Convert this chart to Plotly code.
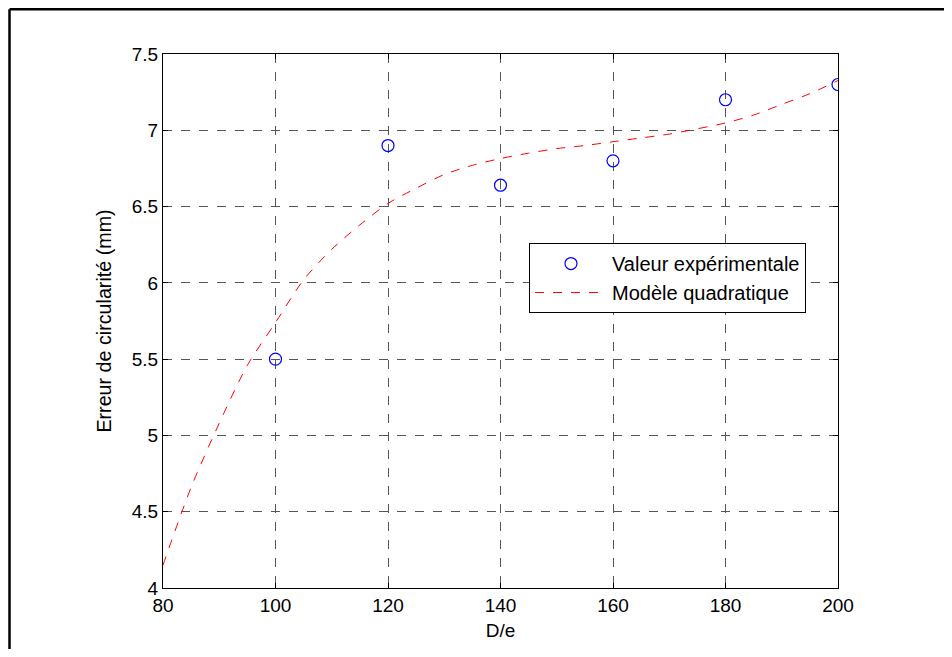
import plotly.graph_objects as go

# Experimental values
exp_x = [100, 120, 140, 160, 180, 200]
exp_y = [5.50, 6.90, 6.64, 6.80, 7.20, 7.30]

# Model curve
model_x = [80, 85, 90, 95, 100, 105, 110, 115, 120, 125, 130, 135, 140, 145, 150,
           155, 160, 165, 170, 175, 180, 185, 190, 195, 200]
model_y = [4.15, 4.66, 5.08, 5.46, 5.74, 6.02, 6.22, 6.38, 6.52, 6.62, 6.71, 6.77, 6.815, 6.85, 6.88,
           6.90, 6.925, 6.95, 6.975, 7.01, 7.048, 7.10, 7.17, 7.24, 7.326]

x_ticks = [80, 100, 120, 140, 160, 180, 200]
y_ticks = [4, 4.5, 5, 5.5, 6, 6.5, 7, 7.5]
y_tick_text = ["4", "4.5", "5", "5.5", "6", "6.5", "7", "7.5"]

font_family = "Liberation Sans, Arial, sans-serif"

fig = go.Figure()
fig.add_trace(go.Scatter(
    x=exp_x, y=exp_y, mode="markers", name="Valeur expérimentale",
    marker=dict(symbol="circle-open", size=12, color="#0000FF", line=dict(width=1.2, color="#0000FF")),
))
fig.add_trace(go.Scatter(
    x=model_x, y=model_y, mode="lines", name="Modèle quadratique",
    line=dict(color="#FF0000", width=1, dash="dash", shape="spline", smoothing=0.8),
))

axis_common = dict(
    showline=True, linecolor="black", linewidth=1, mirror="ticks",
    ticks="inside", ticklen=5, tickcolor="black", tickwidth=1,
    showgrid=True, gridcolor="#555555", gridwidth=1, griddash="dash",
    zeroline=False, tickfont=dict(family=font_family, size=19, color="black"),
)

fig.update_xaxes(range=[80, 200], tickvals=x_ticks, title_text="D/e", title_standoff=8,
                 title_font=dict(family=font_family, size=19, color="black"), **axis_common)
fig.update_yaxes(range=[4, 7.5], tickvals=y_ticks, ticktext=y_tick_text,
                 title_text="Erreur de circularité (mm)", title_standoff=14,
                 title_font=dict(family=font_family, size=19.7, color="black"), **axis_common)

fig.update_layout(
    width=936, height=641,
    margin=dict(l=155, r=106, t=46, b=61),
    paper_bgcolor="white", plot_bgcolor="white",
    showlegend=True,
    legend=dict(
        x=0.5422, y=0.646, xanchor="left", yanchor="top",
        bgcolor="white", bordercolor="black", borderwidth=1,
        font=dict(family=font_family, size=20, color="black"),
        itemwidth=72, tracegroupgap=0,
    ),
    font=dict(family=font_family, size=19, color="black"),
    shapes=[
        dict(type="line", xref="paper", yref="paper", x0=-0.2274, x1=1.3, y0=1.0839, y1=1.0839,
             line=dict(color="black", width=2.5)),
        dict(type="line", xref="paper", yref="paper", x0=-0.2274, x1=-0.2274, y0=1.0839, y1=-0.2,
             line=dict(color="black", width=2.5)),
    ],
)

fig.write_html("out.html")
